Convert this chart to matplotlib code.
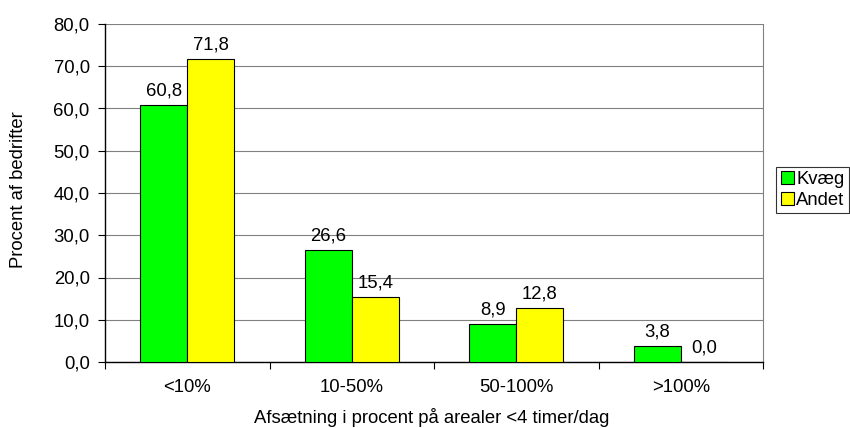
import matplotlib
matplotlib.use("Agg")
import matplotlib.pyplot as plt
import numpy as np
from matplotlib.ticker import FixedLocator, NullFormatter, FixedFormatter

plt.rcParams['font.family'] = ['Liberation Sans', 'DejaVu Sans']
FS = 13.3

categories = ["<10%", "10-50%", "50-100%", ">100%"]
kvaeg = [60.8, 26.6, 8.9, 3.8]
andet = [71.8, 15.4, 12.8, 0.0]
series_names = ["Kvæg", "Andet"]
yticks = [0, 10, 20, 30, 40, 50, 60, 70, 80]

fig = plt.figure(figsize=(8.5, 4.28), dpi=100)
ax = fig.add_axes([105/850, 1-362/428, (763-105)/850, (362-24)/428])

x = np.arange(len(categories))
w = 0.286
b1 = ax.bar(x - w/2, kvaeg, w, color="#00FF00", edgecolor="black", linewidth=0.8, label=series_names[0], zorder=3)
b2 = ax.bar(x + w/2, andet, w, color="#FFFF00", edgecolor="black", linewidth=0.8, label=series_names[1], zorder=3)

def fmt(v):
    return f"{v:.1f}".replace(".", ",")

for rects, vals in ((b1, kvaeg), (b2, andet)):
    for r, v in zip(rects, vals):
        ax.annotate(fmt(v), (r.get_x() + r.get_width()/2, v), xytext=(0, 4),
                    textcoords="offset points", ha="center", va="bottom", fontsize=FS)

ax.set_xlim(-0.5, len(categories) - 0.5)
ax.set_ylim(0, 80)
ax.set_yticks(yticks)
ax.set_yticklabels([fmt(v) for v in yticks], fontsize=FS)
ax.yaxis.grid(True, color="#808080", linewidth=0.8, zorder=0)
ax.set_axisbelow(True)

ax.xaxis.set_major_locator(FixedLocator(np.arange(len(categories) + 1) - 0.5))
ax.xaxis.set_major_formatter(NullFormatter())
ax.xaxis.set_minor_locator(FixedLocator(x))
ax.xaxis.set_minor_formatter(FixedFormatter(categories))
ax.tick_params(axis="x", which="minor", length=0, labelsize=FS, pad=12)
ax.tick_params(axis="x", which="major", length=5, direction="out")
ax.tick_params(axis="y", length=5, direction="out", pad=6)

for s in ("left", "bottom"):
    ax.spines[s].set_color("black")
    ax.spines[s].set_linewidth(1.0)
ax.spines["right"].set_color("#808080")
ax.spines["top"].set_visible(False)

ax.set_ylabel("Procent af bedrifter", fontsize=FS)
ax.yaxis.set_label_coords(27/850, 1-190/428, transform=fig.transFigure)
ax.set_xlabel("Afsætning i procent på arealer <4 timer/dag", fontsize=FS)
ax.xaxis.set_label_coords(432/850, 1-408/428, transform=fig.transFigure)

leg = ax.legend(loc="center left", bbox_to_anchor=(776/850, 1-190/428), bbox_transform=fig.transFigure,
                fontsize=FS, frameon=True, fancybox=False, edgecolor="black",
                handlelength=0.7, handleheight=0.7, handletextpad=0.15, borderpad=0.25,
                labelspacing=0.2, borderaxespad=0)
leg.get_frame().set_linewidth(0.8)

fig.savefig("out.png", dpi=100)
